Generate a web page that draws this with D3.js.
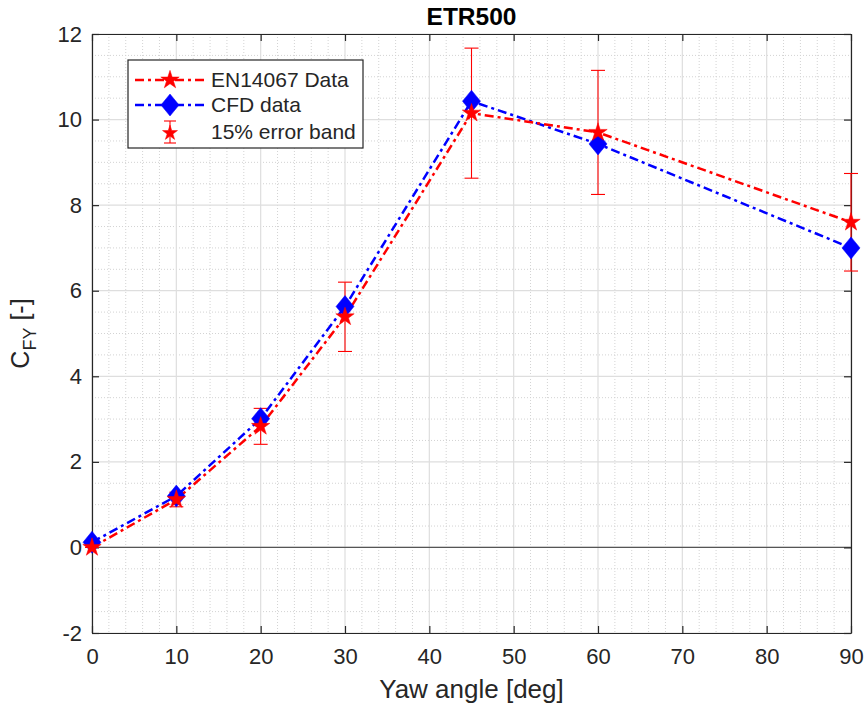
<!DOCTYPE html>
<html>
<head>
<meta charset="utf-8">
<script src="https://cdn.jsdelivr.net/npm/d3@7"></script>
<style>
  body { margin: 0; background: #fff; }
  svg text { font-family: 'Liberation Sans', Arial, sans-serif; fill: #262626; }
</style>
</head>
<body>
<div id="chart"></div>
<script>
// data
const yaw = [0, 10, 20, 30, 45, 60, 90];
const enData = [0, 1.12, 2.83, 5.39, 10.15, 9.7, 7.6];
const cfdData = [0.12, 1.2, 3.01, 5.63, 10.43, 9.43, 7.0];
const errLow = [0, 0.95, 2.41, 4.58, 8.63, 8.25, 6.46];
const errHigh = [0, 1.29, 3.25, 6.2, 11.67, 11.15, 8.74];
const xTicks = [0, 10, 20, 30, 40, 50, 60, 70, 80, 90];
const yTicks = [-2, 0, 2, 4, 6, 8, 10, 12];
const legendLabels = ['EN14067 Data', 'CFD data', '15% error band'];

const W = 868, H = 709;
const margin = {top: 34, right: 17, bottom: 76, left: 92};
const width = W - margin.left - margin.right;
const height = H - margin.top - margin.bottom;

const svg = d3.select('#chart').append('svg')
  .attr('width', W)
  .attr('height', H);

const x = d3.scaleLinear().domain([0, 90]).range([0, width]);
const y = d3.scaleLinear().domain([-2, 12]).range([height, 0]);

const g = svg.append('g')
  .attr('transform', `translate(${margin.left},${margin.top})`);

// minor grid
const minorX = d3.range(0, 91, 2).filter(v => v % 10 !== 0);
const minorY = d3.range(-2, 12.01, 0.5).filter(v => Math.abs(v % 2) > 0.01);
g.selectAll('.minor-x').data(minorX).join('line')
  .attr('x1', d => x(d)).attr('x2', d => x(d))
  .attr('y1', 0).attr('y2', height)
  .attr('stroke', '#d3d3d3').attr('stroke-width', 1)
  .attr('stroke-dasharray', '1,2');
g.selectAll('.minor-y').data(minorY).join('line')
  .attr('x1', 0).attr('x2', width)
  .attr('y1', d => y(d)).attr('y2', d => y(d))
  .attr('stroke', '#d3d3d3').attr('stroke-width', 1)
  .attr('stroke-dasharray', '1,2');

// major grid
g.selectAll('.major-x').data(xTicks).join('line')
  .attr('x1', d => x(d)).attr('x2', d => x(d))
  .attr('y1', 0).attr('y2', height)
  .attr('stroke', '#dedede').attr('stroke-width', 1.2);
g.selectAll('.major-y').data(yTicks).join('line')
  .attr('x1', 0).attr('x2', width)
  .attr('y1', d => y(d)).attr('y2', d => y(d))
  .attr('stroke', '#dedede').attr('stroke-width', 1.2);

// zero line
g.append('line')
  .attr('x1', 0).attr('x2', width)
  .attr('y1', y(0)).attr('y2', y(0))
  .attr('stroke', '#555').attr('stroke-width', 1.2);

// axes (box with inner ticks)
const axisStyle = sel => {
  sel.select('.domain').attr('stroke', '#262626').attr('stroke-width', 1.2);
  sel.selectAll('.tick line').attr('stroke', '#262626').attr('stroke-width', 1.2);
  sel.selectAll('.tick text').style('font-size', '22px').attr('fill', '#262626');
};
const fmt = d => String(d);
g.append('g').attr('transform', `translate(0,${height})`)
  .call(d3.axisBottom(x).tickValues(xTicks).tickSizeInner(-7).tickSizeOuter(0).tickPadding(15).tickFormat(fmt))
  .call(axisStyle);
g.append('g')
  .call(d3.axisLeft(y).tickValues(yTicks).tickSizeInner(-7).tickSizeOuter(0).tickPadding(10).tickFormat(fmt))
  .call(axisStyle);
g.append('g')
  .call(d3.axisTop(x).tickValues(xTicks).tickSizeInner(-7).tickSizeOuter(0).tickFormat(''))
  .call(axisStyle);
g.append('g').attr('transform', `translate(${width},0)`)
  .call(d3.axisRight(y).tickValues(yTicks).tickSizeInner(-7).tickSizeOuter(0).tickFormat(''))
  .call(axisStyle);

// shapes
const starPath = d3.symbol(d3.symbolStar, 105)();
const diamondPath = 'M0,-11L9,0L0,11L-9,0Z';
const dashDot = '9,4,3,4';

const line = d3.line().x(d => x(d[0])).y(d => y(d[1]));

// error bars
const capW = 7;
yaw.forEach((v, i) => {
  const eb = g.append('g').attr('stroke', '#ff0000').attr('stroke-width', 1.1);
  eb.append('line').attr('x1', x(v)).attr('x2', x(v)).attr('y1', y(errLow[i])).attr('y2', y(errHigh[i]));
  eb.append('line').attr('x1', x(v) - capW).attr('x2', x(v) + capW).attr('y1', y(errLow[i])).attr('y2', y(errLow[i]));
  eb.append('line').attr('x1', x(v) - capW).attr('x2', x(v) + capW).attr('y1', y(errHigh[i])).attr('y2', y(errHigh[i]));
});

// CFD line
g.append('path')
  .datum(yaw.map((v, i) => [v, cfdData[i]]))
  .attr('d', line)
  .attr('fill', 'none').attr('stroke', '#0000ff').attr('stroke-width', 2.5)
  .attr('stroke-dasharray', dashDot);
// EN line
g.append('path')
  .datum(yaw.map((v, i) => [v, enData[i]]))
  .attr('d', line)
  .attr('fill', 'none').attr('stroke', '#ff0000').attr('stroke-width', 2.5)
  .attr('stroke-dasharray', dashDot);

g.selectAll('.cfd-pt').data(yaw).join('path')
  .attr('d', diamondPath)
  .attr('transform', (d, i) => `translate(${x(d)},${y(cfdData[i])})`)
  .attr('fill', '#0000ff').attr('stroke', '#0000ff').attr('stroke-width', 0.5);
g.selectAll('.en-pt').data(yaw).join('path')
  .attr('d', starPath)
  .attr('transform', (d, i) => `translate(${x(d)},${y(enData[i])})`)
  .attr('fill', '#ff0000').attr('stroke', '#ff0000').attr('stroke-width', 0.5);

// title and labels
svg.append('text')
  .attr('x', margin.left + width / 2).attr('y', 25)
  .attr('text-anchor', 'middle')
  .style('font-size', '24.5px').style('font-weight', 'bold')
  .style('fill', '#000')
  .text('ETR500');

svg.append('text')
  .attr('x', margin.left + width / 2).attr('y', 698)
  .attr('text-anchor', 'middle')
  .style('font-size', '26px')
  .text('Yaw angle [deg]');

const yl = svg.append('text')
  .attr('transform', `translate(29,${margin.top + height / 2}) rotate(-90)`)
  .attr('text-anchor', 'middle')
  .style('font-size', '25px');
yl.append('tspan').text('C');
yl.append('tspan').attr('dy', 7).style('font-size', '18px').text('FY');
yl.append('tspan').attr('dy', -7).text(' [-]');

// legend
const lg = svg.append('g').attr('transform', 'translate(128,60)');
lg.append('rect')
  .attr('width', 235).attr('height', 88)
  .attr('fill', '#fff').attr('stroke', '#262626').attr('stroke-width', 1.2);
const rowY = [20, 45, 72];
lg.append('line').attr('x1', 7).attr('x2', 77).attr('y1', rowY[0]).attr('y2', rowY[0])
  .attr('stroke', '#ff0000').attr('stroke-width', 2.5).attr('stroke-dasharray', dashDot);
lg.append('path').attr('d', starPath).attr('transform', `translate(42,${rowY[0]})`)
  .attr('fill', '#ff0000').attr('stroke', '#ff0000').attr('stroke-width', 0.5);
lg.append('line').attr('x1', 7).attr('x2', 77).attr('y1', rowY[1]).attr('y2', rowY[1])
  .attr('stroke', '#0000ff').attr('stroke-width', 2.5).attr('stroke-dasharray', dashDot);
lg.append('path').attr('d', diamondPath).attr('transform', `translate(42,${rowY[1]})`)
  .attr('fill', '#0000ff').attr('stroke', '#0000ff').attr('stroke-width', 0.5);
const le = lg.append('g').attr('stroke', '#ff0000').attr('stroke-width', 1.1);
le.append('line').attr('x1', 42).attr('x2', 42).attr('y1', rowY[2] - 11).attr('y2', rowY[2] + 11);
le.append('line').attr('x1', 36).attr('x2', 48).attr('y1', rowY[2] - 11).attr('y2', rowY[2] - 11);
le.append('line').attr('x1', 36).attr('x2', 48).attr('y1', rowY[2] + 11).attr('y2', rowY[2] + 11);
lg.append('path').attr('d', d3.symbol(d3.symbolStar, 70)()).attr('transform', `translate(42,${rowY[2] + 1})`)
  .attr('fill', '#ff0000').attr('stroke', '#ff0000').attr('stroke-width', 0.5);
lg.selectAll('.lt').data(legendLabels).join('text')
  .attr('x', 83).attr('y', (d, i) => rowY[i] + 7)
  .style('font-size', '21px')
  .text(d => d);
</script>
</body>
</html>
